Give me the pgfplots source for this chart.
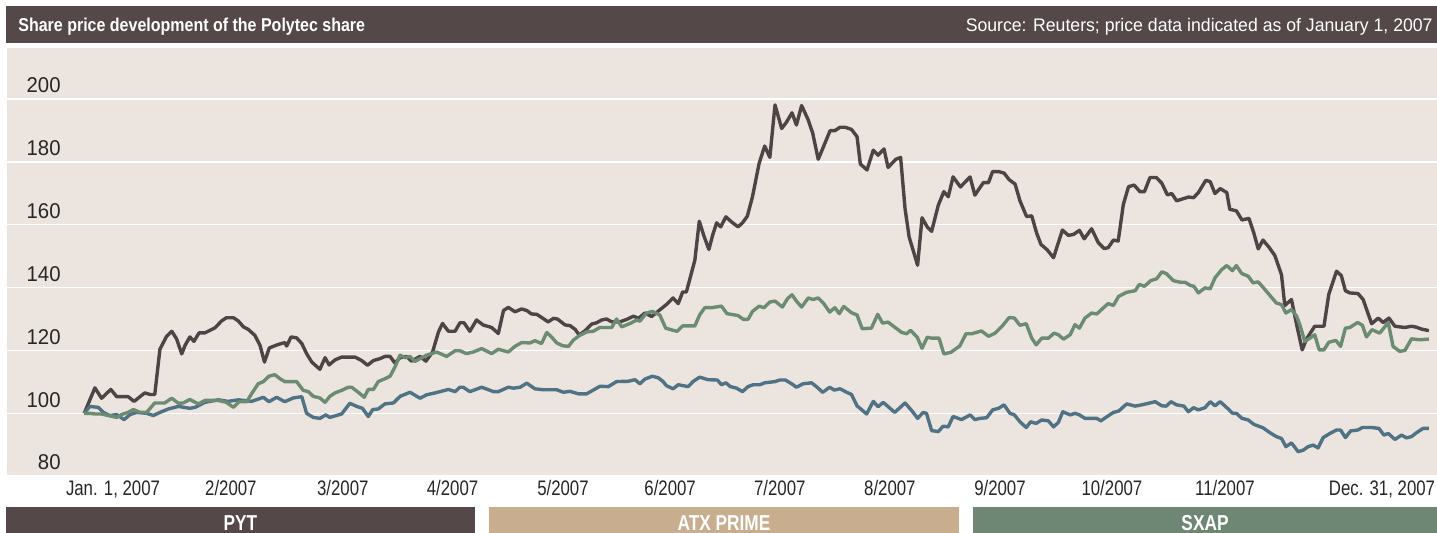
\documentclass[border=0pt]{standalone}
\usepackage{pgfplots}
\pgfplotsset{compat=1.18}
\usepackage{pgfplotstable}
\usepackage{fontspec}
\setmainfont{Liberation Sans}
\newfontfamily\ylabfont[FakeStretch=0.95]{Liberation Sans}
\newfontfamily\xlabfont[FakeStretch=0.8]{Liberation Sans}
\newfontfamily\srcfont[FakeStretch=0.97]{Liberation Sans}
\newfontfamily\condbold[FakeStretch=0.86]{Liberation Sans Bold}
\newfontfamily\barbold[FakeStretch=0.8]{Liberation Sans Bold}

\definecolor{bgbeige}{HTML}{ECE5DF}
\definecolor{hdr}{HTML}{544849}
\definecolor{pyt}{HTML}{4E4446}
\definecolor{sxap}{HTML}{6C8B73}
\definecolor{atx}{HTML}{4F7385}
\definecolor{atxbar}{HTML}{C9AD8F}
\definecolor{sxapbar}{HTML}{6E8775}

% day of 2007 (0 = Jan 1), index value (Jan 1 = 100)
\pgfplotstableread[row sep=\\]{
d v\\
0 100\\ 2.9 108.1\\ 4.7 104.8\\ 7.2 107.6\\ 8.8 105.3\\ 11.9 105.3\\ 13.5 103.8\\ 16.4 106.5\\ 17.8 106\\ 19.1 106\\
20.5 120.4\\ 22.3 124.5\\ 23.7 126.1\\ 25 123.7\\ 26.4 118.9\\ 27.3 121.6\\ 28.6 124.3\\ 29.7 122.9\\ 31.1 125.6\\ 32.7 125.6\\
35.4 127.2\\ 37.2 129.4\\ 38.5 130.4\\ 40.4 130.4\\ 41.7 129.4\\ 43.1 127.5\\ 44.4 126.7\\ 46.2 124.8\\ 47.6 121.6\\ 48.8 116.3\\
50.1 120.8\\ 52.5 121.9\\ 54.3 122.5\\ 54.8 121.4\\ 56 124.3\\ 57.5 124\\ 58.9 122.2\\ 60.2 119\\ 61.6 116.3\\ 63.8 114\\
65.2 117.7\\ 66.3 115.4\\ 67.9 117\\ 69.7 117.9\\ 73.3 117.9\\ 75.1 116.8\\ 76.7 115.3\\ 78.3 116.8\\ 80.1 117.4\\ 81.4 118.1\\
82.8 118.1\\ 84.1 116\\ 85.5 117.7\\ 87.3 118.1\\ 88.6 116.6\\ 90.9 118.1\\ 92.5 116.6\\ 94.3 119.5\\ 95.9 125.9\\ 97 128.6\\
98.6 126.1\\ 100.4 126.1\\ 101.7 128.8\\ 102.8 128.8\\ 104.4 126.1\\ 106.2 129.7\\ 108 128.1\\ 110.3 127.3\\ 112.1 125.4\\ 113.5 132.7\\
114.8 133.7\\ 116.6 132.3\\ 118.4 133.2\\ 119.8 132.7\\ 121.1 131.6\\ 122.5 131.5\\ 125.6 129.1\\ 127 130.2\\ 128.1 130\\ 130.2 128.1\\
131.5 127.9\\ 132.9 126.7\\ 134 124.9\\ 135.6 126.3\\ 137.4 128.4\\ 138.7 128.8\\ 140.1 129.7\\ 141.4 130\\ 142.8 129.1\\ 145 129.1\\
146.9 129.9\\ 148.7 130.9\\ 150 130.2\\ 151.8 131.9\\ 153.6 130.8\\ 155.8 132.9\\ 157.6 134.6\\ 159.4 136.7\\ 160.8 134.9\\ 162 138.6\\
163 138.6\\ 164.1 143.4\\ 165.3 148.7\\ 166.5 161.1\\ 167.7 156.6\\ 169.1 152.1\\ 170.1 156.6\\ 171.2 160.6\\ 172.3 159.3\\ 173.7 162.5\\
175.2 160.9\\ 177 159.3\\ 178.2 160.6\\ 179.5 162.7\\ 180.9 168.9\\ 182.7 179.5\\ 184.2 185\\ 185.6 181.4\\ 187 198.1\\ 188.8 190.6\\
190.1 192.6\\ 191.6 195.6\\ 192.8 191.7\\ 194.2 197.9\\ 196 193.3\\ 197.2 189.1\\ 198.7 180.8\\ 200.3 185.3\\ 201.9 189.9\\ 203.2 189.9\\
204.6 191\\ 205.9 191\\ 207.7 190.3\\ 209.2 188\\ 210.1 179.3\\ 211.9 177.4\\ 213.6 183.7\\ 214.9 182.1\\ 216.5 184.1\\ 217.6 178.2\\
219.7 180.8\\ 221 181.4\\ 222.2 165.1\\ 223.3 156.1\\ 225.6 147.1\\ 226.8 162.2\\ 228.2 159.3\\ 229.4 157.9\\ 231.2 166.2\\ 232.7 170.5\\
233.9 168.9\\ 235.2 175.2\\ 237.2 172\\ 239.8 175.2\\ 241.1 169.4\\ 243.4 173.4\\ 244.8 173.4\\ 245.9 176.9\\ 247.5 176.9\\ 249 176.4\\
250.4 174.3\\ 252 172.9\\ 253.3 167.6\\ 255.1 162.6\\ 256.5 162.8\\ 257.8 157.4\\ 259 153.7\\ 260.6 152.1\\ 262.4 149.5\\ 263.4 153.2\\
264.8 158.3\\ 266.4 156.6\\ 267.8 156.9\\ 269.4 158.2\\ 270.7 155.5\\ 272.7 158.7\\ 274.5 154.3\\ 276.1 152.4\\ 277.2 152.7\\ 278.6 155.1\\
279.9 154.8\\ 281.3 166.5\\ 282.7 172.1\\ 284.2 172.6\\ 285.8 170.5\\ 287 170.5\\ 288.5 175\\ 290.2 175\\ 291.7 173.2\\ 293.2 169.5\\
294.4 169.9\\ 295.7 167.6\\ 297.6 168.3\\ 298.9 168.8\\ 300.3 168.6\\ 301.6 170.2\\ 303.6 174.1\\ 304.8 173.7\\ 306.1 169.9\\ 307.5 171.5\\
309.3 170.2\\ 310.1 164.9\\ 311.9 164.4\\ 313.4 161.5\\ 315.3 162\\ 316.6 157.4\\ 317.8 152.3\\ 319.1 155.1\\ 320.8 152.7\\ 322.3 150.2\\
324.1 144.1\\ 325 134.3\\ 326.8 136.2\\ 328.2 128.2\\ 329.7 120.2\\ 331 123.9\\ 333.1 127.7\\ 335.6 127.7\\ 336.9 137.8\\ 339 145.2\\
340.3 143.8\\ 341.4 139\\ 342.6 138.3\\ 344.8 138.1\\ 346.2 136.2\\ 348.5 128.5\\ 350.3 130.3\\ 351.6 128.9\\ 353.2 130.3\\ 354.8 127.7\\
357.5 127.3\\ 359.3 127.7\\ 360.6 127.4\\ 362 126.8\\ 364 126.3\\
}\pytdata

\pgfplotstableread[row sep=\\]{
d v\\
0 100\\ 1.5 100\\ 2.9 99.8\\ 4.7 99.8\\ 6.5 99.3\\ 8.8 98.7\\ 10.1 99.6\\ 11.9 100.3\\ 13.3 101.2\\ 15.1 100.3\\
16.9 100.3\\ 19.1 103.3\\ 21.8 103.3\\ 23.7 104.8\\ 25.5 103.2\\ 26.8 103.3\\ 28.6 104.4\\ 30.9 103\\ 32.7 104.1\\ 36.3 104.1\\
38.5 103.5\\ 40.4 101.9\\ 41.9 103.7\\ 44 103.7\\ 45.3 106.2\\ 47.1 109.4\\ 48.5 110.1\\ 50 111.8\\ 51.6 112.3\\ 53 111\\
54.3 110.1\\ 57.5 110.1\\ 59.3 107.3\\ 60.7 106.9\\ 62 105.4\\ 63.8 104.9\\ 65.2 103.5\\ 66.5 105.4\\ 67.9 106.5\\ 69.7 107.3\\
71.5 108.3\\ 72.4 108.3\\ 74.2 106.7\\ 75.8 105.1\\ 76.9 107.6\\ 78.3 107.6\\ 79.6 110.1\\ 81.4 111\\ 82.8 111.8\\ 84.1 114.7\\
85.5 118.5\\ 86.8 117.7\\ 88.2 118.1\\ 89.5 116.5\\ 90.9 117.4\\ 92.7 118.5\\ 95.4 119.5\\ 98.1 118.1\\ 100.4 119.9\\ 101.7 119.9\\
103.5 119\\ 105.3 119.5\\ 107.6 120.6\\ 110.3 119\\ 112.1 120.4\\ 114.8 119.5\\ 116.6 121.3\\ 118.4 122.5\\ 120.7 122.4\\ 122 123.1\\
123.8 122.2\\ 125.2 125.7\\ 126.5 124.3\\ 127.9 122.4\\ 129.5 121.5\\ 131.1 121.3\\ 132.4 123.3\\ 134 124.7\\ 136 125.9\\ 137.8 126.1\\
139.6 127.3\\ 142.8 127.3\\ 144.1 130\\ 145.5 127.5\\ 147.8 128.6\\ 149.6 129.7\\ 150.4 129.3\\ 152.2 131.9\\ 153.8 132.4\\ 155.8 131.3\\
157.4 127.1\\ 159.4 126.4\\ 160.5 126.1\\ 162 127.8\\ 165.3 127.8\\ 166.6 131.3\\ 168 133.6\\ 169.8 133.6\\ 172.5 134.1\\ 174 131.7\\
177 131.1\\ 178.4 129.9\\ 179.7 129.9\\ 180.9 132.4\\ 182.7 134.1\\ 184 133.6\\ 185.6 135.4\\ 187 135.7\\ 189 133.8\\ 190.4 136.5\\
191.6 137.7\\ 192.8 135.7\\ 194.2 133.8\\ 196 136.7\\ 197.3 136.2\\ 198.7 136.7\\ 200.2 134.9\\ 201.8 132.2\\ 203.2 133.6\\ 204.4 131.7\\
205.6 134\\ 207.7 132\\ 209.2 131.3\\ 210.6 126.9\\ 213.1 127.1\\ 214.8 131.5\\ 216.1 128.7\\ 217.6 129\\ 219.4 127.4\\ 221.2 125.8\\
222.6 125.3\\ 223.7 126.4\\ 225.5 124.2\\ 226.8 120.7\\ 228.2 124.2\\ 229.4 123.9\\ 231.4 123.9\\ 232.7 118.9\\ 234.6 119.4\\ 237 121.4\\
238.7 125.3\\ 240.2 125.3\\ 242.9 126.2\\ 244.8 124.5\\ 246.6 125.5\\ 248.6 127.9\\ 250.4 130.5\\ 251.8 130.3\\ 253.3 128\\ 255 128.5\\
256.5 123.9\\ 257.7 121.8\\ 259.2 123.9\\ 261 123.9\\ 262.5 125.5\\ 263.7 125\\ 265.1 123.6\\ 266.9 125\\ 268.2 128.2\\ 269.4 127.1\\
270.9 130.3\\ 272.7 131.9\\ 274.1 131.6\\ 276.1 133.8\\ 277.2 134.9\\ 278.6 134.3\\ 280 137.2\\ 282.2 138.5\\ 284.5 139\\ 285.6 141\\
287 140.4\\ 288.7 142.2\\ 290.3 142.8\\ 291.7 145\\ 293 144.4\\ 294.8 142.2\\ 296.7 141.7\\ 298 141.7\\ 299.4 140.7\\ 300.4 140.4\\
301.6 138.3\\ 303.4 139.9\\ 304.8 139.6\\ 306.1 143.1\\ 307.9 145.7\\ 309.3 147\\ 310.8 145.4\\ 311.9 147\\ 313.3 144.5\\ 315.1 143.6\\
316.4 141.5\\ 317.8 141.8\\ 319.6 139.4\\ 320.9 137.6\\ 322.7 135.1\\ 324.1 134.6\\ 325.3 131.9\\ 326.8 133\\ 328.2 130.9\\ 329.2 127.7\\
330.4 122.9\\ 331.8 123.9\\ 333.1 125\\ 334.3 120.2\\ 335.6 120.2\\ 336.9 122.6\\ 338.8 123.2\\ 340.1 121.3\\ 341.4 127.1\\ 342.6 127.3\\
344.7 128.9\\ 346 128\\ 347.1 124.3\\ 348.6 126.6\\ 350.7 125.5\\ 353 128.9\\ 354.3 121.3\\ 356.1 119.7\\ 357.5 120\\ 359.3 123.7\\
361.5 123.4\\ 364 123.6\\
}\sxapdata

\pgfplotstableread[row sep=\\]{
d v\\
0 100\\ 1.5 102.2\\ 3.8 101.9\\ 5.2 100.3\\ 6.9 99.3\\ 8.8 99.6\\ 10.8 98\\ 12.4 99.6\\ 14.2 100.3\\ 16.9 100\\
18.7 99.3\\ 20.5 100.3\\ 22.8 101.4\\ 25.5 102.2\\ 28.6 101.6\\ 30 101.9\\ 32.7 103.5\\ 36.3 104.3\\ 39 103.8\\ 41.7 104.3\\
45.3 103.8\\ 48.5 105.1\\ 50 103.7\\ 52.1 105.1\\ 54.3 103.7\\ 56.6 104.9\\ 58.9 105.3\\ 60.2 100\\ 62 98.7\\ 63.8 98.4\\
65.4 99.5\\ 66.5 98.7\\ 69.7 99.8\\ 71.9 103.2\\ 73.8 102.2\\ 75.3 101.6\\ 76.9 99\\ 78.1 101.2\\ 79.6 101.4\\ 81.4 103\\
83.7 103.3\\ 85.5 105.4\\ 88.2 106.7\\ 90.9 104.8\\ 92.7 105.9\\ 95 106.5\\ 98.6 107.6\\ 100.4 106.9\\ 101.7 108.3\\ 102.6 108.3\\
104.4 106.9\\ 107.6 108.3\\ 110.8 106.9\\ 112.1 106.9\\ 114.8 108.3\\ 116.2 108\\ 118 108.3\\ 119.8 109.6\\ 122 107.8\\ 124.3 107.5\\
127.9 107.5\\ 129.7 106.7\\ 131.5 107\\ 133.8 106.2\\ 136 106.2\\ 139.6 108.6\\ 141.9 108.5\\ 144.1 110.1\\ 147.3 110.2\\ 149.1 110.7\\
150.4 109.4\\ 151.8 110.9\\ 153.8 111.8\\ 155.4 111.3\\ 156.7 110.1\\ 157.6 108.8\\ 159.4 107.8\\ 160.8 109.1\\ 163.5 108.5\\ 164.8 110.1\\
166.6 111.5\\ 168.9 110.7\\ 171.4 110.6\\ 172.5 109.1\\ 173.7 109.7\\ 174.9 108.5\\ 176.6 108\\ 178.2 106.9\\ 179.7 108.5\\ 181.1 109.1\\
182.9 109.1\\ 184.2 109.7\\ 187 110.1\\ 188.3 110.6\\ 189.8 110.6\\ 191.5 109.4\\ 192.8 108.3\\ 194.6 109.4\\ 196.9 109.7\\ 198.2 108.5\\
199.9 106.7\\ 201.8 108.3\\ 203 107.4\\ 204.6 107.8\\ 206.4 106.7\\ 207.7 106\\ 209.2 102.4\\ 211.8 99.8\\ 213.6 103.8\\ 214.9 102.1\\
216.3 103.5\\ 219.4 100.3\\ 222.2 103.3\\ 224.2 100.6\\ 225.6 98.4\\ 227.1 100.3\\ 228 100\\ 229.4 94.5\\ 231.2 94.2\\ 232.5 95.9\\
233.9 95.7\\ 235.2 99\\ 237.5 98\\ 239.8 99.5\\ 241.1 98\\ 242.5 98.4\\ 244.3 98.6\\ 245.9 101.1\\ 247.5 101.6\\ 249 102.7\\
250.6 100\\ 251.8 99.5\\ 253.3 97.3\\ 255 95.5\\ 256.2 97.3\\ 257.7 96.8\\ 259.2 97.9\\ 261 97.6\\ 262.4 95.7\\ 263.7 97.1\\
264.9 100.5\\ 266.9 99.5\\ 268.2 100\\ 269.4 99.5\\ 270.9 98.4\\ 274.1 98.4\\ 275.2 97.6\\ 276.8 98.9\\ 278.6 100.3\\ 280 100.7\\
282.2 103\\ 284.5 102.3\\ 286.3 102.7\\ 289.9 103.7\\ 291.7 102.4\\ 292.9 102.3\\ 294.2 103.7\\ 295.7 102.7\\ 297.7 102.3\\ 298.9 100.5\\
300.3 101.8\\ 301.6 101.1\\ 303.4 101.8\\ 304.8 103.7\\ 306.1 102.4\\ 307.5 103.7\\ 309.3 101.8\\ 310.9 100\\ 311.9 100\\ 313.4 98.4\\
315.1 97.9\\ 316.6 96.5\\ 319.1 95.4\\ 320.9 93.9\\ 322.7 92.6\\ 324.1 92\\ 325.3 89.4\\ 326.8 90.6\\ 328.6 87.8\\ 330 88.3\\
331.3 89.4\\ 332.7 89.9\\ 334 89\\ 335.4 92.3\\ 337.2 93.6\\ 339 94.7\\ 340.1 94.7\\ 341.4 92.3\\ 342.8 94.4\\ 344.8 94.7\\
346 95.5\\ 348.5 95.5\\ 350.5 95.2\\ 351.8 93.1\\ 353 93.6\\ 354.8 91.7\\ 356.6 93.1\\ 357.9 92.2\\ 359.3 92.6\\ 360.6 93.8\\
362.4 95.2\\ 364 95.2\\
}\atxdata

\begin{document}
\begin{tikzpicture}
\path[use as bounding box] (-3.5pt,-28.15pt) rectangle (715pt,238.35pt);
\begin{axis}[
    at={(0,0)}, anchor=south west,
    width=715pt, height=214.35pt, scale only axis,
    xmin=-20.9, xmax=366.2,
    ymin=79.85, ymax=216.2,
    axis background/.style={fill=bgbeige},
    axis line style={draw=none},
    major tick length=0pt,
    ymajorgrids, grid style={white, line width=0.8pt},
    ytick={80,100,...,200},
    /pgf/number format/assume math mode=true,
    yticklabel style={font=\ylabfont\fontsize{10.7}{12}\selectfont, text=black!85,
        anchor=base east, inner sep=0pt, xshift=27pt, yshift=3.15pt},
    xtick={7.8,39.7,70,99.7,129.6,158.6,188.3,218.1,247.9,278.2,308.8,351.3},
    xticklabels={{Jan. 1, 2007},2/2007,3/2007,4/2007,5/2007,6/2007,7/2007,8/2007,9/2007,10/2007,11/2007,{Dec. 31, 2007}},
    xticklabel style={font=\xlabfont\fontsize{10.5}{12}\selectfont, text=black!85,
        anchor=north, inner sep=0pt, yshift=-1.65pt},
    every axis plot/.append style={line width=1.7pt, line join=round, no markers},
]
\addplot[pyt] table[x=d, y=v] {\pytdata};
\addplot[atx] table[x=d, y=v] {\atxdata};
\addplot[sxap] table[x=d, y=v] {\sxapdata};
\end{axis}

% header bar
\fill[hdr] (-0.5pt,216.7pt) rectangle (715pt,235.35pt);
\node[anchor=base west, inner sep=0pt, text=white, font=\condbold\fontsize{9.3}{11}\selectfont]
    at (5.5pt,222.35pt) {Share price development of the Polytec share};
\node[anchor=base east, inner sep=0pt, text=white, font=\srcfont\fontsize{9.1}{11}\selectfont]
    at (713pt,222.35pt) {Source: Reuters; price data indicated as of January 1, 2007};

% legend bars
\fill[hdr] (-0.5pt,-15pt) rectangle (234pt,-32pt);
\fill[atxbar] (241pt,-15pt) rectangle (476pt,-32pt);
\fill[sxapbar] (483pt,-15pt) rectangle (715pt,-32pt);
\foreach \cx/\lab in {116.75pt/PYT, 358.5pt/ATX PRIME, 599pt/SXAP}
    \node[anchor=base, inner sep=0pt, text=white, font=\barbold\fontsize{10.8}{13}\selectfont]
        at (\cx,-27pt) {\lab};
\end{tikzpicture}
\end{document}
